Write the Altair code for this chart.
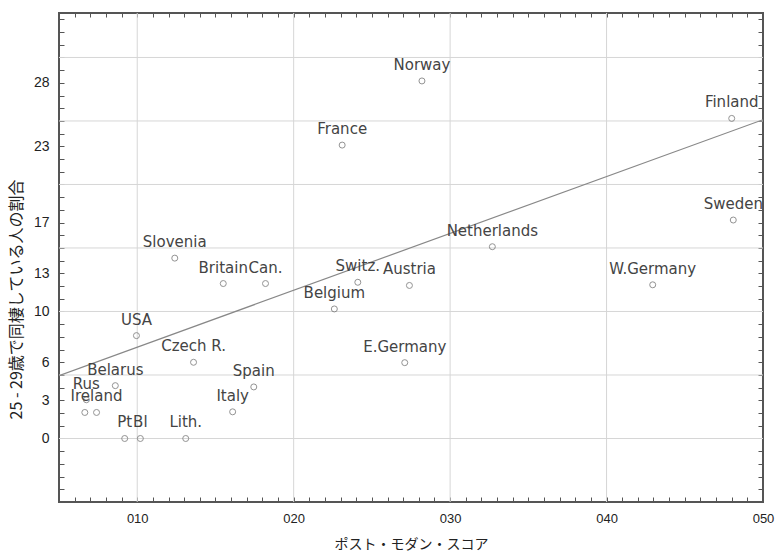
import altair as alt
import pandas as pd

# ---- data ----
countries = ["Norway", "France", "Finland", "Sweden", "Netherlands", "W.Germany",
             "Switz.", "Austria", "Belgium", "E.Germany", "Spain", "Italy", "Lith.",
             "Pt", "Bl", "Rus", "Ireland", "", "Belarus", "USA", "Czech R.",
             "Slovenia", "Britain", "Can."]
pm_score = [28.2, 23.1, 48.0, 48.1, 32.7, 42.95,
            24.1, 27.4, 22.6, 27.1, 17.45, 16.1, 13.1,
            9.2, 10.2, 6.75, 7.4, 6.65, 8.6, 9.95, 13.6,
            12.4, 15.5, 18.2]
cohab = [28.15, 23.1, 25.2, 17.2, 15.1, 12.1,
         12.3, 12.05, 10.2, 5.97, 4.06, 2.1, 0.0,
         0.0, 0.0, 3.05, 2.05, 2.05, 4.16, 8.1, 6.0,
         14.2, 12.2, 12.2]

fit_x = [5, 50]
fit_y = [4.95, 25.1]

y_tick_labels = [0, 3, 6, 10, 13, 17, 23, 28]
x_tick_labels = [10, 20, 30, 40, 50]
grid_y = [0, 5, 10, 15, 20, 25, 30]
grid_x = [10, 20, 30, 40]
y_minor = list(range(-5, 34))
x_minor = list(range(5, 51))

x_domain = [5, 50]
y_domain = [-5, 33.5]

df = pd.DataFrame({"country": countries, "pm": pm_score, "cohab": cohab})
fit_df = pd.DataFrame({"pm": fit_x, "cohab": fit_y})

xs = alt.Scale(domain=x_domain, nice=False, zero=False)
ys = alt.Scale(domain=y_domain, nice=False, zero=False)

y_label_expr = "indexof([" + ",".join(str(v) for v in y_tick_labels) + "], datum.value) >= 0 ? datum.label : ''"
x_label_expr = "indexof([" + ",".join(str(v) for v in x_tick_labels) + "], datum.value) >= 0 ? '0' + datum.label : ''"

left_axis = alt.Axis(orient="left", values=y_minor, labelExpr=y_label_expr, grid=False,
                     domain=False, ticks=True, tickSize=5, tickColor="#555", offset=-5,
                     labelPadding=10, labelFont="Liberation Sans", labelFontSize=14,
                     labelColor="#222", labelOverlap=False,
                     title="25 - 29歳で同棲している人の割合", titleFont="Noto Sans CJK JP",
                     titleFontSize=16, titleFontWeight="normal", titleColor="#222",
                     titleX=-48, titleY=286, titleBaseline="middle", titleAngle=270)
bottom_axis = alt.Axis(orient="bottom", values=x_minor, labelExpr=x_label_expr, grid=False,
                       domain=False, ticks=True, tickSize=5, tickColor="#555", offset=-5,
                       labelPadding=10, labelFont="Liberation Sans", labelFontSize=13,
                       labelColor="#222", labelOverlap=False, labelFlush=False,
                       title="ポスト・モダン・スコア", titleFont="Noto Sans CJK JP",
                       titleFontSize=14, titleFontWeight="normal", titleColor="#222",
                       titlePadding=12)
right_axis = alt.Axis(orient="right", values=y_minor, labels=False, grid=False, domain=False,
                      tickSize=5, tickColor="#555", offset=-5, title=None)
top_axis = alt.Axis(orient="top", values=x_minor, labels=False, grid=False, domain=False,
                    tickSize=4, tickColor="#555", offset=-4, title=None)

hgrid = alt.Chart(pd.DataFrame({"gy": grid_y})).mark_rule(color="#d6d6d6", strokeWidth=1).encode(
    y=alt.Y("gy:Q", scale=ys, axis=right_axis))
vgrid = alt.Chart(pd.DataFrame({"gx": grid_x})).mark_rule(color="#d6d6d6", strokeWidth=1).encode(
    x=alt.X("gx:Q", scale=xs, axis=top_axis))

line = alt.Chart(fit_df).mark_line(color="#888", strokeWidth=1.2, clip=True).encode(
    x=alt.X("pm:Q", scale=xs, axis=None),
    y=alt.Y("cohab:Q", scale=ys, axis=None))

points = alt.Chart(df).mark_point(shape="circle", filled=False, size=36, color="#666",
                                  strokeWidth=1).encode(
    x=alt.X("pm:Q", scale=xs, axis=bottom_axis),
    y=alt.Y("cohab:Q", scale=ys, axis=left_axis))

labels = alt.Chart(df).mark_text(font="DejaVu Sans", fontSize=15, color="#444", dy=-16,
                                 baseline="middle", align="center", clip=True).encode(
    x=alt.X("pm:Q", scale=xs, axis=None),
    y=alt.Y("cohab:Q", scale=ys, axis=None),
    text="country:N")

chart = alt.layer(hgrid, vgrid, line, points, labels).resolve_axis(
    x="independent", y="independent"
).properties(
    width=704, height=489,
    padding={"left": 59, "top": 13, "right": 13, "bottom": 52},
    autosize=alt.AutoSizeParams(type="none"),
    background="white"
).configure_view(stroke="#555", strokeWidth=2)

chart.save("out.html", embed_options={"renderer": "svg", "actions": False})
